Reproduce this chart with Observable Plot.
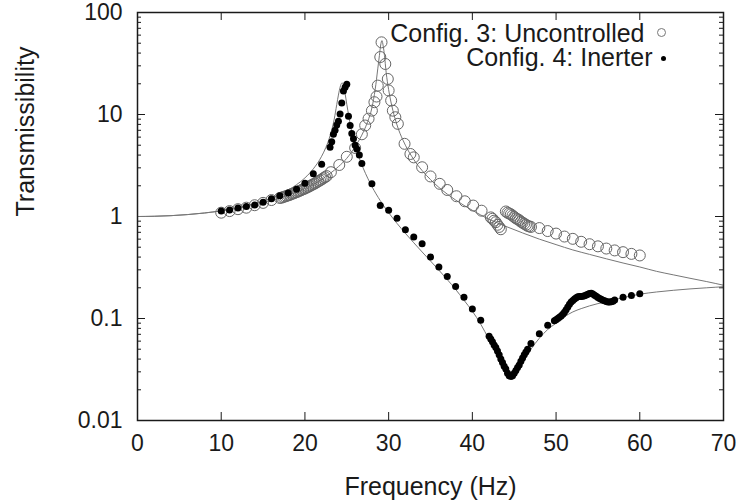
<!DOCTYPE html>
<html>
<head>
<meta charset="utf-8">
<script src="https://cdn.jsdelivr.net/npm/d3@7"></script>
<script src="https://cdn.jsdelivr.net/npm/@observablehq/plot@0.6"></script>
<style>
  html, body { margin: 0; padding: 0; background: #fff; }
</style>
</head>
<body>
<div id="chart"></div>
<script>
// ---- Config. 3: Uncontrolled (measured, open circles)
const uncFreq = [10,11,12,13,14,15,16,17,
  17.2,17.4,17.6,17.8,18.0,18.2,18.4,18.6,18.8,19.0,19.2,19.4,19.6,19.8,20.0,20.2,20.4,20.6,20.8,21.0,21.2,21.4,21.6,21.8,22.0,22.2,22.4,22.6,
  23.1,24.1,25.0,26.0,26.8,27.2,27.6,28.0,28.3,28.55,28.7,29.0,29.15,29.6,29.9,30.0,30.3,30.5,30.8,31.1,31.9,32.6,
  33.0,34.0,35.0,36.1,37.0,38.1,39.1,40.1,41.1,
  42.2,42.4,42.6,42.8,43.0,43.2,43.4,
  44.0,44.2,44.4,44.6,44.8,45.0,45.2,45.4,45.6,45.8,46.0,46.2,46.4,46.6,46.8,47.0,
  48.0,49.0,50.0,51.0,52.0,53.0,54.0,55.0,56.0,57.0,58.0,59.0,60.0];
const uncVal = [1.09,1.13,1.18,1.22,1.29,1.36,1.45,1.52,
  1.53,1.55,1.57,1.59,1.61,1.63,1.66,1.68,1.71,1.73,1.76,1.79,1.82,1.85,1.88,1.92,1.95,1.99,2.03,2.07,2.11,2.16,2.21,2.26,2.31,2.37,2.43,2.49,
  2.72,3.2,3.85,4.7,6.4,7.8,9.1,10.9,13.2,15.0,19.2,36.6,51,31.3,22.3,17.2,13.7,10.9,9.4,8.1,5.16,4.1,
  3.8,3.04,2.47,2.09,1.82,1.58,1.41,1.28,1.14,
  0.98,0.95,0.91,0.88,0.83,0.79,0.75,
  1.12,1.09,1.07,1.05,1.02,0.99,0.96,0.94,0.92,0.89,0.87,0.85,0.83,0.81,0.80,0.79,
  0.77,0.72,0.68,0.636,0.604,0.565,0.535,0.51,0.485,0.465,0.447,0.43,0.415];

// ---- Config. 4: Inerter (measured, filled dots)
const inFreq = [10,11,12,13,14,15,16,17,18,19,20,21,22,23.0,23.2,23.4,23.6,23.8,24.0,24.2,24.4,24.6,24.8,25.0,
  25.2,25.4,25.6,25.8,26.0,26.2,26.5,26.8,28,29,30,31,32,33,34,35,36,37,38,39,40,41,42,
  42.2,42.4,42.6,42.8,43.0,43.2,43.4,43.6,43.8,44.0,44.2,44.4,44.6,44.8,45.0,45.2,45.4,45.6,45.8,46.0,46.2,46.4,46.6,47.0,
  48.0,49.0,49.8,50.0,50.2,50.4,50.6,50.8,51.0,51.2,51.4,51.6,51.8,52.0,52.2,52.4,52.6,52.8,53.0,53.2,53.4,53.6,53.8,54.0,54.2,
  54.4,54.6,54.8,55.0,55.2,55.4,55.6,55.8,56.0,56.2,56.4,56.6,56.8,57.0,58.0,59.0,60.0];
const inVal = [1.13,1.16,1.21,1.25,1.30,1.38,1.49,1.60,1.70,1.85,2.12,2.63,3.25,4.77,5.4,6.4,7.0,7.9,8.6,10.1,13.0,17.0,18.5,19.8,
  9.6,7.8,6.5,5.8,5.0,4.6,4.0,3.3,2.09,1.28,1.15,0.96,0.74,0.63,0.54,0.40,0.32,0.258,0.206,0.162,0.124,0.096,0.067,
  0.063,0.059,0.055,0.052,0.048,0.044,0.040,0.037,0.034,0.032,0.029,0.0275,0.027,0.0275,0.029,0.031,0.033,0.035,0.038,0.041,0.044,0.047,0.050,0.057,
  0.071,0.086,0.095,0.097,0.100,0.103,0.106,0.110,0.115,0.122,0.130,0.138,0.145,0.150,0.155,0.160,0.163,0.164,0.164,0.165,0.167,0.170,0.173,0.176,0.177,
  0.174,0.169,0.165,0.161,0.157,0.154,0.151,0.149,0.147,0.145,0.145,0.146,0.148,0.152,0.162,0.168,0.175];

// ---- Theoretical curves
const uncCurveFreq = [0,2,4,6,8,10,12,14,16,18,20,21,22,23,24,25,25.5,26,26.5,27,27.5,28,28.4,28.7,28.9,29.05,29.2,29.35,29.5,29.7,30,30.5,31,32,33,34,35,36,38,40,42,44,46,48,50,52,54,56,58,60,62,64,66,68,70];
const uncCurveVal = [1,1.005,1.019,1.044,1.081,1.133,1.203,1.299,1.43,1.613,1.884,2.07,2.31,2.64,3.08,3.72,4.2,4.83,5.66,6.8,8.56,11.6,17.8,28,38,48,53,47,38,26,17.5,11,7.9,5.0,3.62,2.82,2.3,1.93,1.45,1.15,0.94,0.80,0.69,0.60,0.53,0.47,0.425,0.385,0.35,0.32,0.29,0.268,0.248,0.23,0.212];
const inCurveFreq = [0,2,4,6,8,10,12,14,16,18,19,20,21,22,22.5,23,23.5,23.8,24.0,24.2,24.4,24.5,24.6,24.8,25,25.5,26,26.5,27,28,29,30,31,32,33,34,35,36,37,38,39,40,41,42,43,43.5,44,44.5,45,45.5,46,47,48,49,50,51,52,53,54,55,56,57,58,59,60,62,64,66,68,70];
const inCurveVal = [1,1.005,1.019,1.045,1.083,1.139,1.22,1.338,1.518,1.817,2.05,2.39,2.93,3.9,4.75,6.17,9.0,12.5,15.5,18.5,20.3,20.3,19.5,16,12.6,7.4,5.0,3.72,2.93,1.97,1.43,1.09,0.856,0.684,0.553,0.449,0.366,0.298,0.241,0.193,0.151,0.118,0.088,0.062,0.043,0.035,0.029,0.0265,0.028,0.032,0.037,0.05,0.064,0.078,0.09,0.104,0.116,0.125,0.133,0.14,0.146,0.153,0.16,0.167,0.173,0.182,0.189,0.195,0.2,0.205];

// ---- Axes
const xTicks = [0,10,20,30,40,50,60,70];
const xTickLabels = ["0","10","20","30","40","50","60","70"];
const yTicks = [0.01,0.1,1,10,100];
const yTickLabels = ["0.01","0.1","1","10","100"];
const yMinor = [2,3,4,5,6,7,8,9].flatMap(m => [0.01,0.1,1,10].map(d => m*d));
const legendLabels = ["Config. 3: Uncontrolled", "Config. 4: Inerter"];
const xLabel = "Frequency (Hz)";
const yLabel = "Transmissibility";

const unc = uncFreq.map((f,i) => ({f, v: uncVal[i]}));
const inr = inFreq.map((f,i) => ({f, v: inVal[i]}));
const uncC = uncCurveFreq.map((f,i) => ({f, v: uncCurveVal[i]}));
const inC = inCurveFreq.map((f,i) => ({f, v: inCurveVal[i]}));

const W = 742, H = 500, mL = 137, mR = 19, mT = 12, mB = 80;
const fw = W - mL - mR, fh = H - mT - mB;
const ink = "#1a1a1a";
const big = 25;

const chart = Plot.plot({
  width: W, height: H,
  marginLeft: mL, marginRight: mR, marginTop: mT, marginBottom: mB,
  style: {fontFamily: "'Liberation Sans', Arial, Helvetica, sans-serif", fontSize: "23px", background: "#fff", color: ink},
  x: {domain: [0,70], ticks: xTicks, tickFormat: d => xTickLabels[xTicks.indexOf(d)], tickSize: 0, tickPadding: 14, label: null},
  y: {type: "log", domain: [0.01,100], ticks: yTicks, tickFormat: d => yTickLabels[yTicks.indexOf(d)], tickSize: 0, tickPadding: 15, label: null},
  marks: [
    // tick marks (inward, mirrored)
    Plot.tickX(xTicks, {x: d => d, insetTop: fh - 8, stroke: ink}),
    Plot.tickX(xTicks, {x: d => d, insetBottom: fh - 8, stroke: ink}),
    Plot.tickY(yTicks, {y: d => d, insetRight: fw - 8, stroke: ink}),
    Plot.tickY(yTicks, {y: d => d, insetLeft: fw - 8, stroke: ink}),
    Plot.tickY(yMinor, {y: d => d, insetRight: fw - 4, stroke: ink}),
    Plot.tickY(yMinor, {y: d => d, insetLeft: fw - 4, stroke: ink}),
    // theoretical curves
    Plot.line(uncC, {x: "f", y: "v", stroke: "#777", strokeWidth: 1, curve: "monotone-x"}),
    Plot.line(inC, {x: "f", y: "v", stroke: "#777", strokeWidth: 1, curve: "monotone-x"}),
    // measured data
    Plot.dot(unc, {x: "f", y: "v", r: 5.5, stroke: "#666", strokeWidth: 1, fill: "none"}),
    Plot.dot(inr, {x: "f", y: "v", r: 3.5, fill: "#000", stroke: "none"}),
    Plot.frame({stroke: ink, strokeWidth: 1.5}),
    // legend
    Plot.text([legendLabels[0]], {text: d => d, frameAnchor: "top-right", lineAnchor: "middle", dx: -79, dy: 21, textAnchor: "end", fill: ink, fontSize: big}),
    Plot.text([legendLabels[1]], {text: d => d, frameAnchor: "top-right", lineAnchor: "middle", dx: -71, dy: 45, textAnchor: "end", fill: ink, fontSize: big}),
    Plot.dot([0], {frameAnchor: "top-right", dx: -62, dy: 20, r: 4, stroke: "#777", strokeWidth: 1, fill: "none"}),
    Plot.dot([0], {frameAnchor: "top-right", dx: -60, dy: 46, r: 2.5, fill: "#000"}),
    // axis titles
    Plot.text([xLabel], {text: d => d, frameAnchor: "bottom", lineAnchor: "middle", dy: 66, fill: ink, fontSize: big}),
    Plot.text([yLabel], {text: d => d, frameAnchor: "left", lineAnchor: "middle", dx: -112, rotate: -90, fill: ink, fontSize: big})
  ]
});
document.getElementById("chart").appendChild(chart);
</script>
</body>
</html>
